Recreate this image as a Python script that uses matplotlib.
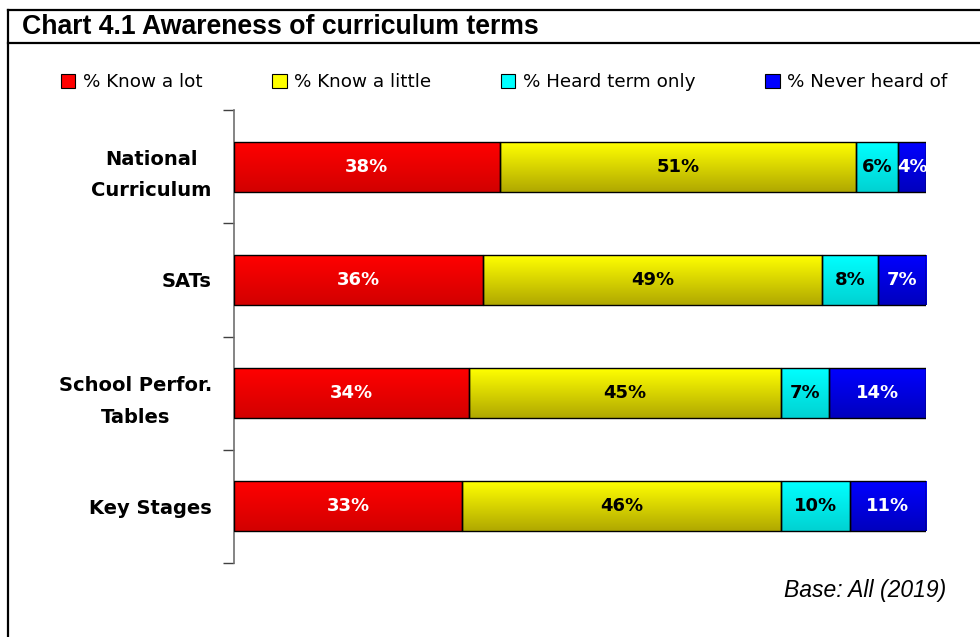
import numpy as np
import matplotlib
matplotlib.use("Agg")
import matplotlib.pyplot as plt
from matplotlib.lines import Line2D
from matplotlib.patches import Rectangle

categories = ["National\nCurriculum", "SATs", "School Perfor.\nTables", "Key Stages"]
series_names = ["% Know a lot", "% Know a little", "% Heard term only", "% Never heard of"]
know_lot = [38, 36, 34, 33]
know_little = [51, 49, 45, 46]
heard_only = [6, 8, 7, 10]
never_heard = [4, 7, 14, 11]

title = "Chart 4.1 Awareness of curriculum terms"
base_note = "Base: All (2019)"

top_colors = ["#FF0000", "#FFFF00", "#00FFFF", "#0000FF"]
bot_colors = ["#D20000", "#B0A800", "#00D2D2", "#0000BE"]
label_colors = ["white", "black", "black", "white"]

W, H = 980, 637
fig = plt.figure(figsize=(W / 100, H / 100), dpi=100)
fig.patch.set_facecolor("white")

def fx(px):
    return px / W

def fy(py):
    return 1 - py / H

# frame
fig.add_artist(Line2D([fx(8), fx(8)], [fy(10), fy(700)], color="black", lw=1.6, transform=fig.transFigure))
fig.add_artist(Line2D([fx(8), fx(1000)], [fy(10), fy(10)], color="black", lw=1.6, transform=fig.transFigure))
fig.add_artist(Line2D([fx(8), fx(1000)], [fy(42.5), fy(42.5)], color="black", lw=1.6, transform=fig.transFigure))
fig.text(fx(22), fy(27), title, fontsize=19.2, fontweight="bold", family="Liberation Sans",
         ha="left", va="center")

ax = fig.add_axes([fx(234), fy(563), fx(926) - fx(234), fy(110) - fy(563)])

data = np.array([know_lot, know_little, heard_only, never_heard], dtype=float)
totals = data.sum(axis=0)
shares = data / totals

y = np.arange(len(categories))
bar_h = 0.44
left = np.zeros(len(categories))
for i, name in enumerate(series_names):
    bars = ax.barh(y, shares[i], left=left, height=bar_h, facecolor="none",
                   edgecolor="black", linewidth=1.0, zorder=3, label=name)
    grad = np.linspace(0, 1, 64)[:, None]
    c0 = np.array(matplotlib.colors.to_rgb(top_colors[i]))
    c1 = np.array(matplotlib.colors.to_rgb(bot_colors[i]))
    img = (c0[None, None, :] * (1 - grad[:, :, None]) + c1[None, None, :] * grad[:, :, None])
    for j, p in enumerate(bars.patches):
        x0, w = p.get_x(), p.get_width()
        y0, h = p.get_y(), p.get_height()
        ax.imshow(img, extent=(x0, x0 + w, y0 + h, y0), origin="upper", aspect="auto",
                  zorder=2, interpolation="bilinear")
        ax.text(x0 + w / 2, y0 + h / 2, f"{int(data[i, j])}%", ha="center", va="center",
                color=label_colors[i], fontsize=13, fontweight="bold",
                family="DejaVu Sans", zorder=4)
    left = left + shares[i]

ax.set_xlim(0, 1)
ax.set_ylim(len(categories) - 0.5, -0.5)
ax.set_yticks(y)
ax.set_yticklabels(categories, fontsize=14, fontweight="bold", family="DejaVu Sans",
                   ha="right", multialignment="center", linespacing=1.85)
ax.tick_params(axis="y", which="major", length=0, pad=16)
ax.set_yticks(np.arange(-0.5, len(categories)), minor=True)
ax.tick_params(axis="y", which="minor", length=8, width=1, color="#404040", direction="out")
ax.set_xticks([])
for s in ["top", "right", "bottom"]:
    ax.spines[s].set_visible(False)
ax.spines["left"].set_color("#707070")
ax.spines["left"].set_linewidth(1.2)

handles = [Rectangle((0, 0), 1, 1, facecolor=top_colors[i], edgecolor="black", linewidth=0.8)
           for i in range(4)]
fig.legend(handles, series_names, loc="center", bbox_to_anchor=(fx(504), fy(82)), ncol=4,
           frameon=False, handlelength=0.8, handleheight=0.8, handletextpad=0.4,
           columnspacing=3.8, prop={"family": "DejaVu Sans", "size": 13.2})

fig.text(fx(946), fy(590), base_note, fontsize=16.5, style="italic", family="Liberation Sans",
         ha="right", va="center")

fig.savefig("out.png", dpi=100, facecolor="white")
